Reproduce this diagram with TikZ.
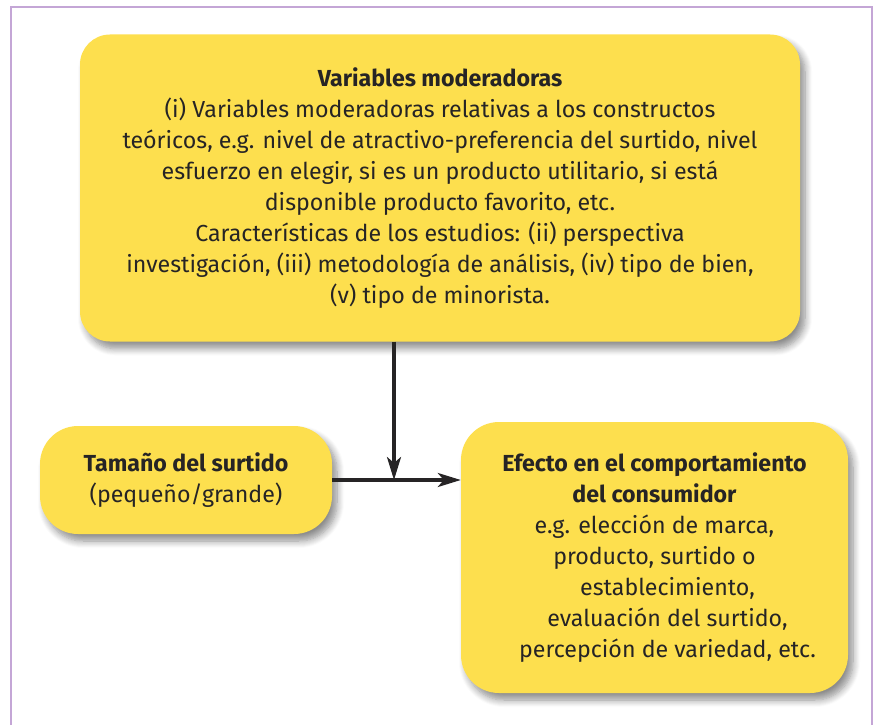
\documentclass[tikz,border=0pt]{standalone}
\usepackage{fontspec}
\setmainfont{Fira Sans}
\usetikzlibrary{shadows.blur,arrows.meta}
\definecolor{amarillo}{HTML}{FDDF4E}
\definecolor{lila}{HTML}{C4A6D6}
\definecolor{tinta}{HTML}{262425}
\tikzset{
  caja/.style={fill=amarillo,rounded corners=#1,align=center,text=tinta,inner sep=0pt,
    font=\fontsize{23.2}{31}\selectfont,
    blur shadow={shadow blur steps=8,shadow blur radius=7pt,shadow xshift=5pt,shadow yshift=-7pt,shadow opacity=45}},
  flecha/.style={line width=3.3pt,draw=tinta,-{Stealth[length=23pt,width=14pt,inset=6pt]}}
}
\begin{document}
\begin{tikzpicture}[x=1pt,y=-1pt]
\useasboundingbox (0,0) rectangle (873,725);
\draw[lila,line width=2pt] (11,725) |- (872,7) -- (872,725);
\node[caja=30pt,minimum width=720pt,minimum height=307pt] (mod) at (440,188)
  {\textbf{Variables moderadoras}\\
   (i) Variables moderadoras relativas a los constructos\\
   teóricos, e.g. nivel de atractivo-preferencia del surtido, nivel\\
   esfuerzo en elegir, si es un producto utilitario, si está\\
   disponible producto favorito, etc.\\
   Características de los estudios: (ii) perspectiva\\
   investigación, (iii) metodología de análisis, (iv) tipo de bien,\\
   (v) tipo de minorista.};
\node[caja=38pt,minimum width=292pt,minimum height=108pt] (tam) at (186,480)
  {\textbf{Tamaño del surtido}\\ (pequeño/grande)};
\node[caja=38pt,minimum width=387pt,minimum height=271pt] (efe) at (654.5,557.5)
  {\textbf{Efecto en el comportamiento}\\
   \textbf{del consumidor}\\
   e.g. elección de marca,\\
   producto, surtido o\\
   \hspace*{26pt}establecimiento,\\
   \hspace*{26pt}evaluación del surtido,\\
   \hspace*{26pt}percepción de variedad, etc.};
\coordinate (cruce) at (394,480);
\draw[flecha] (tam) -- (tam -| efe.west);
\draw[flecha] (mod.south -| cruce) -- (cruce);
\end{tikzpicture}
\end{document}
